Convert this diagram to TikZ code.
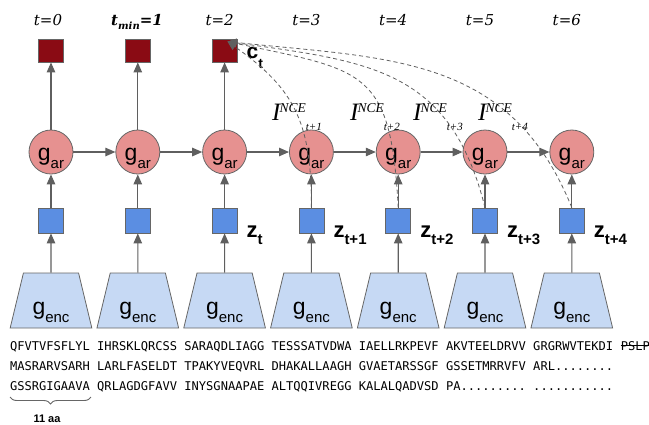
\RequirePackage{fix-cm}
\documentclass[tikz,border=0pt]{standalone}
\usepackage{fontspec}
\usetikzlibrary{shapes.geometric,arrows.meta,decorations.pathreplacing,calc}
\newfontfamily\arialf{Liberation Sans}
\newfontfamily\monof{DejaVu Sans Mono}
\newfontfamily\serff{Liberation Serif}
\newfontfamily\dserff{DejaVu Serif}
\definecolor{redsq}{HTML}{8A0B14}
\definecolor{garc}{HTML}{E69190}
\definecolor{zc}{HTML}{5B8EE2}
\definecolor{encc}{HTML}{C6D9F4}
\definecolor{bordc}{HTML}{666666}
\definecolor{arrc}{HTML}{5F5F5F}
\newcommand{\garlbl}{\arialf\fontsize{23}{23}\selectfont g\raisebox{-8pt}{\fontsize{15}{15}\selectfont ar}}
\newcommand{\enclbl}{\arialf\fontsize{23}{23}\selectfont g\raisebox{-8pt}{\fontsize{15}{15}\selectfont enc}}
\newcommand{\zlbl}[1]{\arialf\bfseries\fontsize{22}{22}\selectfont z\raisebox{-7pt}{\fontsize{15}{15}\selectfont #1}}
\newcommand{\incelbl}[1]{{\serff\itshape\fontsize{25}{25}\selectfont I}\kern-1pt\raisebox{8pt}{\serff\itshape\fontsize{13.5}{13.5}\selectfont NCE}\raisebox{-10pt}{\serff\itshape\fontsize{11}{11}\selectfont #1}}
\newcommand{\seqARL}{ARL........}
\newcommand{\seqPA}{PA.........}
\newcommand{\seqDOT}{...........}
\begin{document}
\begin{tikzpicture}[x=1pt,y=1pt,
  redbox/.style={draw=bordc, fill=redsq, minimum width=25pt, minimum height=23pt, inner sep=0pt, line width=0.8pt},
  garnode/.style={circle, draw=bordc, fill=garc, minimum size=44pt, inner sep=0pt, line width=0.8pt, text height=18pt, text depth=2pt},
  zbox/.style={draw=bordc, fill=zc, minimum width=25pt, minimum height=25pt, inner sep=0pt, line width=0.8pt},
  encnode/.style={trapezium, trapezium angle=74, trapezium stretches=true, draw=bordc, fill=encc, minimum width=82pt, minimum height=55pt, inner sep=0pt, line width=0.8pt, text height=29pt, text depth=2pt},
  arr/.style={draw=arrc, line width=1.1pt, -{Triangle[length=10pt,width=8.5pt]}},
  dsh/.style={draw=arrc, line width=0.8pt, dash pattern=on 4pt off 3pt, -{Triangle[length=9pt,width=8pt]}},
  tlbl/.style={anchor=base, inner sep=0pt, font=\dserff\itshape\fontsize{15}{15}\selectfont},
  zlabel/.style={anchor=base west, inner sep=0pt},
  seq/.style={anchor=base, inner sep=0pt, font=\monof\fontsize{12.07}{14}\selectfont},
  ince/.style={anchor=base west, inner sep=0pt}
]
\useasboundingbox (0,0) rectangle (649,-424);
% columns
\foreach \k in {0,...,6}{
  \pgfmathsetmacro\cx{51+86.8*\k}
  \node[garnode] (gar\k) at (\cx,-152) {\garlbl};
  \node[zbox] (z\k) at (\cx,-220.5) {};
  \node[encnode] (enc\k) at (\cx,-300.5) {\enclbl};
  \draw[arr] (enc\k) -- (z\k);
  \draw[arr] (z\k) -- (gar\k);
}
\foreach \k in {0,1,2}{
  \pgfmathsetmacro\cx{51+86.8*\k}
  \node[redbox] (red\k) at (\cx,-50.5) {};
  \draw[arr] (gar\k) -- (red\k);
}
\foreach \k in {0,...,5}{
  \pgfmathtruncatemacro\kn{\k+1}
  \draw[arr] (gar\k) -- (gar\kn);
}
% time labels
\node[tlbl] (t0) at (48,-25) {t=0};
\node[tlbl, font=\dserff\bfseries\itshape\fontsize{15}{15}\selectfont] (t1) at (137,-25) {t\raisebox{-4pt}{\fontsize{10}{10}\selectfont min}=1};
\foreach \k in {2,...,6}{
  \pgfmathsetmacro\cx{46+86.8*\k}
  \node[tlbl] (t\k) at (\cx,-25) {t=\k};
}
% c_t and z labels
\node[zlabel] (ct) at ([shift={(9,-7.5)}]red2.east) {\arialf\bfseries\fontsize{21}{21}\selectfont c\raisebox{-10pt}{\fontsize{14}{14}\selectfont t}};
\node[zlabel] (zl2) at ([shift={(9,-16.5)}]z2.east) {\zlbl{t}};
\node[zlabel] (zl3) at ([shift={(9,-16.5)}]z3.east) {\zlbl{t+1}};
\node[zlabel] (zl4) at ([shift={(9,-16.5)}]z4.east) {\zlbl{t+2}};
\node[zlabel] (zl5) at ([shift={(9,-16.5)}]z5.east) {\zlbl{t+3}};
\node[zlabel] (zl6) at ([shift={(9,-16.5)}]z6.east) {\zlbl{t+4}};
% dashed prediction curves
\coordinate (ctip) at ([shift={(-10,-3)}]red2.north east);
\draw[dsh] (z3.north) to[out=90,in=-35,looseness=1.15] (ctip);
\draw[dsh] (z4.north) to[out=93,in=-12,looseness=1.5] (ctip);
\draw[dsh] (z5.north) to[out=104,in=-8,looseness=1.2] (ctip);
\draw[dsh] (z6.north) to[out=112,in=-6,looseness=1.1] (ctip);
% I^NCE labels
\node[ince] (i1) at (272,-120) {\incelbl{t+1}};
\node[ince] (i2) at (350,-120) {\incelbl{t+2}};
\node[ince] (i3) at (413,-120) {\incelbl{t+3}};
\node[ince] (i4) at (478,-120) {\incelbl{t+4}};
% sequences
\foreach \s [count=\i from 0] in {QFVTVFSFLYL,IHRSKLQRCSS,SARAQDLIAGG,TESSSATVDWA,IAELLRKPEVF,AKVTEELDRVV,GRGRWVTEKDI}{
  \pgfmathsetmacro\sx{50+87.2*\i}
  \node[seq] (sa\i) at (\sx,-350) {\s};
}
\foreach \s [count=\i from 0] in {MASRARVSARH,LARLFASELDT,TPAKYVEQVRL,DHAKALLAAGH,GVAETARSSGF,GSSETMRRVFV,\seqARL}{
  \pgfmathsetmacro\sx{50+87.2*\i}
  \node[seq] (sb\i) at (\sx,-370.3) {\s};
}
\foreach \s [count=\i from 0] in {GSSRGIGAAVA,QRLAGDGFAVV,INYSGNAAPAE,ALTQQIVREGG,KALALQADVSD,\seqPA,\seqDOT}{
  \pgfmathsetmacro\sx{50+87.2*\i}
  \node[seq] (sc\i) at (\sx,-390.6) {\s};
}
\node[seq, anchor=base west] (pslp) at ([xshift=7.27pt]sa6.base east) {PSLP};
\draw[line width=0.7pt] ([yshift=4.2pt]pslp.base west) -- ([yshift=4.2pt]pslp.base east);
% brace
\draw[draw=bordc, line width=0.9pt, decorate, decoration={brace, mirror, amplitude=7pt}] (10,-397) -- (91,-397);
\node[anchor=base, inner sep=0pt, font=\arialf\bfseries\fontsize{11}{11}\selectfont] (aa) at (47,-422) {11 aa};
\end{tikzpicture}
\end{document}
